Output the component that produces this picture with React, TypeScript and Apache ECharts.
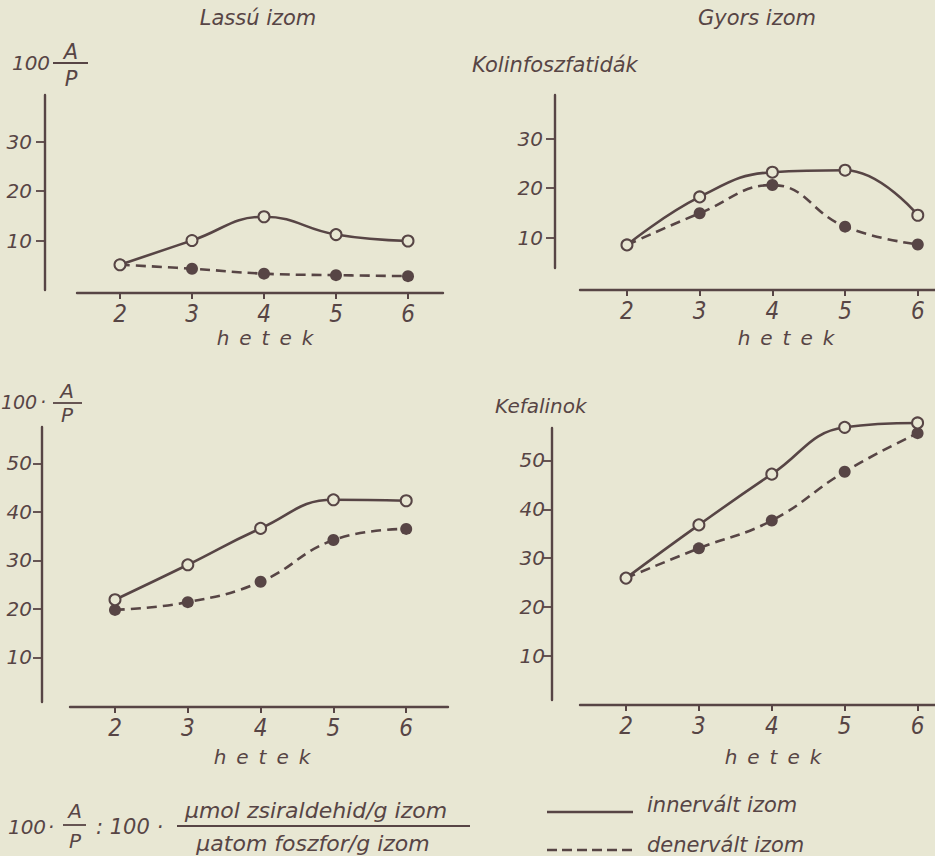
import React, { useEffect, useRef } from "react";
import * as echarts from "echarts";

// ---- data ----
const weeks = [2, 3, 4, 5, 6];
const yTicksTop = [10, 20, 30];
const yTicksBottom = [10, 20, 30, 40, 50];

// Lassú izom – kolinfoszfatidák
const lassuKolinInnervalt = [5.1, 10.0, 14.8, 11.2, 9.9];
const lassuKolinDenervalt = [5.1, 4.3, 3.3, 3.0, 2.8];
// Gyors izom – kolinfoszfatidák
const gyorsKolinInnervalt = [8.5, 18.2, 23.2, 23.6, 14.5];
const gyorsKolinDenervalt = [8.5, 14.9, 20.6, 12.2, 8.6];
// Lassú izom – kefalinok
const lassuKefalInnervalt = [21.9, 29.1, 36.6, 42.5, 42.3];
const lassuKefalDenervalt = [19.8, 21.4, 25.6, 34.2, 36.5];
// Gyors izom – kefalinok
const gyorsKefalInnervalt = [25.9, 36.8, 47.2, 56.8, 57.7];
const gyorsKefalDenervalt = [25.9, 32.0, 37.7, 47.7, 55.6];

const INK = "#574545";
const BG = "#e8e7d3";
const FONT = "'DejaVu Sans', sans-serif";
const XFONT = "'DejaVu Sans Condensed', 'DejaVu Sans', sans-serif";

const pairs = (vals: number[]) => weeks.map((w, i) => [w, vals[i]]);

function xAx(gridIndex: number, min: number, max: number, offset: number) {
  return {
    type: "value",
    gridIndex,
    position: "bottom",
    min,
    max,
    offset,
    axisLine: { show: true, onZero: false, lineStyle: { color: INK, width: 2.4 } },
    axisTick: { show: true, customValues: weeks, length: 6, lineStyle: { color: INK, width: 2 } },
    axisLabel: {
      customValues: weeks,
      margin: 9,
      color: INK,
      fontSize: 24,
      fontStyle: "italic",
      fontFamily: XFONT,
    },
    splitLine: { show: false },
  };
}

function yAx(gridIndex: number, min: number, max: number, offset: number, ticks: number[], margin: number) {
  return {
    type: "value",
    gridIndex,
    position: "left",
    min,
    max,
    offset,
    axisLine: { show: true, onZero: false, lineStyle: { color: INK, width: 2.4 } },
    axisTick: { show: true, customValues: ticks, length: 9, lineStyle: { color: INK, width: 1.8 } },
    axisLabel: {
      customValues: ticks,
      margin,
      color: INK,
      fontSize: 20,
      fontStyle: "italic",
      fontFamily: FONT,
      padding: [0, 0, 8, 0],
    },
    splitLine: { show: false },
  };
}

function serie(idx: number, vals: number[], open: boolean) {
  return {
    type: "line",
    xAxisIndex: idx,
    yAxisIndex: idx,
    data: pairs(vals),
    smooth: 0.45,
    clip: false,
    symbol: "circle",
    symbolSize: open ? 11 : 12,
    z: open ? 4 : 3,
    lineStyle: { color: INK, width: 2.6, type: open ? "solid" : [10, 6] },
    itemStyle: open
      ? { color: BG, borderColor: INK, borderWidth: 2 }
      : { color: INK, borderColor: INK, borderWidth: 0 },
  };
}

function txt(text: string, x: number, y: number, size: number, align = "left", family = FONT) {
  return {
    type: "text",
    x,
    y,
    style: {
      text,
      fill: INK,
      font: `italic ${size}px ${family}`,
      textAlign: align,
      textVerticalAlign: "middle",
    },
  };
}

function hline(x1: number, x2: number, y: number, w = 1.8, dash?: number[]) {
  return {
    type: "line",
    shape: { x1, y1: y, x2, y2: y },
    style: { stroke: INK, lineWidth: w, lineDash: dash },
  };
}

export default function App() {
  const ref = useRef<HTMLDivElement>(null);

  useEffect(() => {
    if (!ref.current) return;
    const chart = echarts.init(ref.current, null, { renderer: "svg" });
    const hetek = "h\u2002e\u2002t\u2002e\u2002k";
    chart.setOption({
      animation: false,
      backgroundColor: BG,
      grid: [
        { left: 77, top: 95, width: 366, height: 195 },
        { left: 580, top: 95, width: 355, height: 173 },
        { left: 70, top: 427, width: 378, height: 275 },
        { left: 580, top: 428, width: 355, height: 272 },
      ],
      xAxis: [
        xAx(0, 1.403, 6.486, 3),
        xAx(1, 1.354, 6.237, 22),
        xAx(2, 1.382, 6.574, 5),
        xAx(3, 1.369, 6.239, 5),
      ],
      yAxis: [
        yAx(0, 0, 39.4, 32, yTicksTop, 13),
        yAx(1, 3.84, 38.8, 25, yTicksTop, 12),
        yAx(2, 0.82, 57.5, 28, yTicksBottom, 10),
        yAx(3, 0.92, 56.66, 28, yTicksBottom, 7),
      ],
      series: [
        serie(0, lassuKolinDenervalt, false),
        serie(0, lassuKolinInnervalt, true),
        serie(1, gyorsKolinDenervalt, false),
        serie(1, gyorsKolinInnervalt, true),
        serie(2, lassuKefalDenervalt, false),
        serie(2, lassuKefalInnervalt, true),
        serie(3, gyorsKefalDenervalt, false),
        serie(3, gyorsKefalInnervalt, true),
      ],
      graphic: [
        txt("Lassú izom", 258, 18, 21, "center"),
        txt("Gyors izom", 757, 18, 21, "center"),
        // top-left unit
        txt("100", 31, 63, 20, "center"),
        txt("A", 71, 52, 21, "center"),
        hline(53, 88, 63),
        txt("P", 71, 79, 21, "center"),
        txt("Kolinfoszfatidák", 472, 65, 21, "left"),
        // bottom-left unit
        txt("100", 19, 402, 19, "center"),
        txt("·", 43, 402, 19, "center"),
        txt("A", 67, 391, 20, "center"),
        hline(53, 82, 403),
        txt("P", 67, 415, 20, "center"),
        txt("Kefalinok", 495, 406, 20, "left"),
        // axis names
        txt(hetek, 265, 338, 20, "center"),
        txt(hetek, 786, 338, 20, "center"),
        txt(hetek, 262, 757, 20, "center"),
        txt(hetek, 773, 757, 20, "center"),
        // formula
        txt("100", 27, 827, 20, "center"),
        txt("·", 51, 827, 20, "center"),
        txt("A", 75, 811, 20, "center"),
        hline(63, 86, 825),
        txt("P", 75, 841, 20, "center"),
        txt(": 100 ·", 96, 827, 21, "left"),
        txt("μmol zsiraldehid/g izom", 316, 810, 22, "center"),
        hline(177, 470, 826),
        txt("μatom foszfor/g izom", 313, 843, 22, "center"),
        // legend
        hline(547, 633, 812, 2.6),
        txt("innervált izom", 647, 805, 21, "left"),
        hline(547, 633, 850, 2.6, [10, 5]),
        txt("denervált izom", 647, 845, 21, "left"),
      ],
    });
    return () => chart.dispose();
  }, []);

  return (
    <div
      ref={ref}
      style={{ position: "fixed", left: 0, top: 0, width: 935, height: 856, background: BG }}
    />
  );
}
